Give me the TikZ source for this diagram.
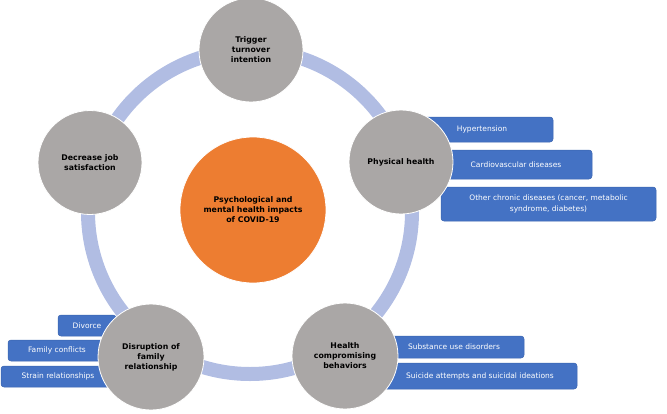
\documentclass[tikz,border=0pt]{standalone}
\usepackage{fontspec}
\setmainfont{DejaVu Sans}
\definecolor{ringblue}{HTML}{B1BDE3}
\definecolor{circgray}{HTML}{AAA7A6}
\definecolor{orangec}{HTML}{ED7D31}
\definecolor{boxblue}{HTML}{4472C4}
\definecolor{boxedge}{HTML}{3A64B0}
\tikzset{
  sat/.style={circle, fill=circgray, draw=white, line width=0.8pt, minimum size=104pt, inner sep=0pt, align=center, font=\fontsize{7.8}{10}\selectfont\bfseries, text=black},
  hub/.style={circle, fill=orangec, draw=white, line width=0.8pt, minimum size=146pt, inner sep=0pt, align=center, font=\fontsize{7.8}{10}\selectfont\bfseries, text=black},
  bbox/.style={rectangle, rounded corners=3pt, fill=boxblue, draw=boxedge, line width=0.5pt, inner sep=0pt, align=center, font=\fontsize{7.5}{11}\selectfont, text=white},
}
\begin{document}
\begin{tikzpicture}[x=1pt,y=-1pt]
\useasboundingbox (0,0) rectangle (667,413);
% ring
\coordinate (ringc) at (250,212);
\draw[ringblue, line width=14pt] (ringc) circle[radius=162pt];
% boxes
\node[bbox, minimum width=142pt, minimum height=25pt] (hyp) at (482,129.5) {Hypertension};
\node[bbox, minimum width=152pt, minimum height=29pt] (cardio) at (516,164.5) {Cardiovascular diseases};
\node[bbox, minimum width=215pt, minimum height=34pt] (chronic) at (548.5,204) {Other chronic diseases (cancer, metabolic\\syndrome, diabetes)};
\node[bbox, minimum width=140pt, minimum height=22pt] (subst) at (454,347) {Substance use disorders};
\node[bbox, minimum width=194pt, minimum height=26pt] (suic) at (480,376) {Suicide attempts and suicidal ideations};
\node[bbox, minimum width=58pt, minimum height=21pt] (div) at (87,325.5) {Divorce};
\node[bbox, minimum width=98pt, minimum height=21pt] (fam) at (57,350.5) {Family conflicts};
\node[bbox, minimum width=114pt, minimum height=21pt] (strain) at (58,376.5) {Strain relationships};
% satellites
\node[sat] (trig) at (251,50) {Trigger\\turnover\\intention};
\node[sat] (phys) at (401,162) {Physical health};
\node[sat, minimum size=106pt] (hcb) at (345,356) {Health\\compromising\\behaviors};
\node[sat, minimum size=106pt] (disr) at (151,357) {Disruption of\\family\\relationship};
\node[sat] (job) at (90,162.5) {Decrease job\\satisfaction};
% hub
\node[hub] (hubn) at (253,210) {Psychological and\\mental health impacts\\of COVID-19};
\end{tikzpicture}
\end{document}
